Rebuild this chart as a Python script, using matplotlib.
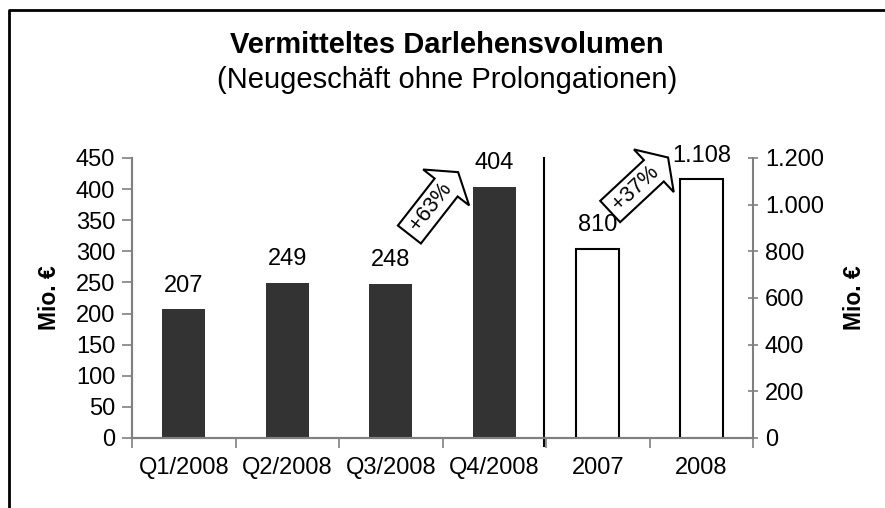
import math
import matplotlib
matplotlib.use("Agg")
import matplotlib.pyplot as plt
import matplotlib.transforms as mtransforms
from matplotlib.lines import Line2D
from matplotlib.patches import Polygon

plt.rcParams['font.family'] = ['Liberation Sans', 'DejaVu Sans']

# Daten
quartale = ['Q1/2008', 'Q2/2008', 'Q3/2008', 'Q4/2008']
quartal_werte = [207, 249, 248, 404]
jahre = ['2007', '2008']
jahres_werte = [810, 1108]
links_ticks = [0, 50, 100, 150, 200, 250, 300, 350, 400, 450]
rechts_ticks = [0, 200, 400, 600, 800, 1000, 1200]


def de_format(v):
    # deutsches Tausendertrennzeichen
    return f'{v:,}'.replace(',', '.')


fig = plt.figure(figsize=(8.85, 5.08), dpi=100)
ax = fig.add_axes([132 / 885, 1 - 438 / 508, 621 / 885, 280 / 508])
ax2 = ax.twinx()

grau = '#808080'
fs = 17
x_q = list(range(len(quartale)))
x_j = [len(quartale) + i for i in range(len(jahre))]

ax.bar(x_q, quartal_werte, width=0.42, color='#333333', zorder=2)
ax2.bar(x_j, jahres_werte, width=0.42, color='white', edgecolor='black', linewidth=1.5, zorder=2)

for x, v in zip(x_q, quartal_werte):
    ax.annotate(de_format(v), (x, v), xytext=(0, 17), textcoords='offset points',
                ha='center', va='center', fontsize=fs)
for x, v in zip(x_j, jahres_werte):
    ax2.annotate(de_format(v), (x, v), xytext=(0, 17), textcoords='offset points',
                 ha='center', va='center', fontsize=fs)

ax.set_xlim(-0.5, len(quartale) + len(jahre) - 0.5)
ax.set_ylim(0, 450)
ax2.set_ylim(0, 1200)

ax.set_yticks(links_ticks)
ax.set_yticklabels([de_format(t) for t in links_ticks], fontsize=fs)
ax2.set_yticks(rechts_ticks)
ax2.set_yticklabels([de_format(t) for t in rechts_ticks], fontsize=fs)

ax.set_xticks(x_q + x_j)
ax.set_xticklabels(quartale + jahre, fontsize=fs)
ax.set_xticks([i - 0.5 for i in range(len(quartale) + len(jahre) + 1)], minor=True)
ax.tick_params(axis='x', which='major', length=0, pad=14)
ax.tick_params(axis='x', which='minor', length=7, color=grau, width=1.2)
ax.tick_params(axis='y', length=7, color=grau, width=1.2, pad=5)
ax2.tick_params(axis='y', length=7, color=grau, width=1.2, direction='inout', pad=5)

for a in (ax, ax2):
    a.spines['top'].set_visible(False)
    for s in ('left', 'right', 'bottom'):
        a.spines[s].set_color(grau)
        a.spines[s].set_linewidth(1.5)
ax.spines['right'].set_visible(False)

ax.set_ylabel('Mio. €', fontsize=16.5, fontweight='bold', labelpad=11)
ax2.set_ylabel('Mio. €', fontsize=16.5, fontweight='bold', labelpad=14)

# Trennlinie zwischen Quartalen und Jahren
ax.axvline(len(quartale) - 0.52, ymin=-0.03, ymax=1, color='black', linewidth=1.5, clip_on=False)


# Wachstumspfeile (Blockpfeil mit Text)
def block_pfeil(x, y, winkel, text):
    laenge, dicke, kopf_b, kopf_l = 57, 21, 42, 14
    form = [(0, -dicke / 2), (laenge - kopf_l, -dicke / 2), (laenge - kopf_l, -kopf_b / 2),
            (laenge, 0), (laenge - kopf_l, kopf_b / 2), (laenge - kopf_l, dicke / 2),
            (0, dicke / 2)]
    tr = (mtransforms.Affine2D().rotate_deg(winkel).scale(fig.dpi / 72)
          + mtransforms.ScaledTranslation(x, y, ax.transData))
    ax.add_patch(Polygon(form, closed=True, transform=tr, fc='white', ec='black',
                         lw=1.5, zorder=5, clip_on=False))
    mitte = 25
    ax.annotate(text, (x, y), xytext=(mitte * math.cos(math.radians(winkel)),
                                      mitte * math.sin(math.radians(winkel))),
                textcoords='offset points', rotation=winkel, rotation_mode='anchor',
                ha='center', va='center', fontsize=15.5, zorder=6)


block_pfeil(2.18, 327, 52, '+63%')
block_pfeil(4.12, 364, 43, '+37%')

fig.text(0.505, 1 - 45 / 508, 'Vermitteltes Darlehensvolumen', ha='center', va='center',
         fontsize=21, fontweight='bold')
fig.text(0.505, 1 - 80 / 508, '(Neugeschäft ohne Prolongationen)', ha='center', va='center',
         fontsize=21)

# Rahmen
fig.add_artist(Line2D([9 / 885, 9 / 885, 1.0], [0.0, 1 - 10 / 508, 1 - 10 / 508],
                      transform=fig.transFigure, color='black', linewidth=2))

fig.savefig('out.png', dpi=100)
